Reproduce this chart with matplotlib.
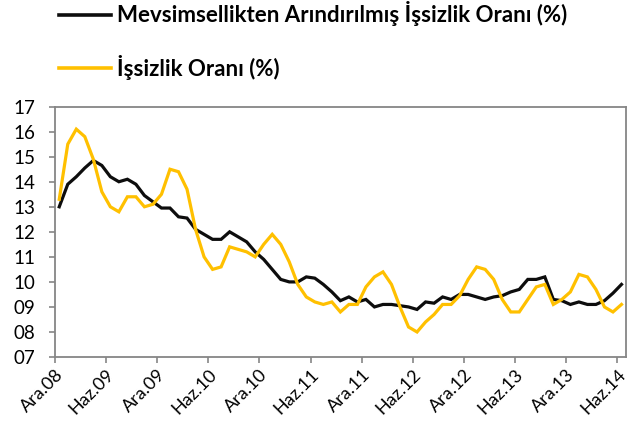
import matplotlib
matplotlib.use("Agg")
import matplotlib.pyplot as plt
import matplotlib.transforms as mtransforms
import numpy as np

# monthly, Ara.08 .. Haz.14
months_labels = ["Ara.08", "Haz.09", "Ara.09", "Haz.10", "Ara.10", "Haz.11",
                 "Ara.11", "Haz.12", "Ara.12", "Haz.13", "Ara.13", "Haz.14"]

sa_rate = [13.0, 13.9, 14.2, 14.55, 14.85, 14.65, 14.2, 14.0, 14.1, 13.9, 13.45, 13.2,
           12.95, 12.95, 12.6, 12.55, 12.1, 11.9, 11.7, 11.7, 12.0, 11.8, 11.6, 11.2,
           10.9, 10.5, 10.1, 10.0, 10.0, 10.2, 10.15, 9.9, 9.6, 9.25, 9.4, 9.2,
           9.3, 9.0, 9.1, 9.1, 9.05, 9.0, 8.9, 9.2, 9.15, 9.4, 9.3, 9.5,
           9.5, 9.4, 9.3, 9.4, 9.45, 9.6, 9.7, 10.1, 10.1, 10.2, 9.3, 9.25,
           9.1, 9.2, 9.1, 9.1, 9.25, 9.55, 9.9]

rate = [13.3, 15.5, 16.1, 15.8, 14.9, 13.6, 13.0, 12.8, 13.4, 13.4, 13.0, 13.1,
        13.5, 14.5, 14.4, 13.7, 12.1, 11.0, 10.5, 10.6, 11.4, 11.3, 11.2, 11.0,
        11.5, 11.9, 11.5, 10.8, 9.9, 9.4, 9.2, 9.1, 9.2, 8.8, 9.1, 9.1,
        9.8, 10.2, 10.4, 9.9, 9.0, 8.2, 8.0, 8.4, 8.7, 9.1, 9.1, 9.45,
        10.1, 10.6, 10.5, 10.1, 9.3, 8.8, 8.8, 9.3, 9.8, 9.9, 9.1, 9.3,
        9.6, 10.3, 10.2, 9.7, 9.0, 8.8, 9.1]

plt.rcParams["font.family"] = ["Lato", "DejaVu Sans"]
GRID = "#868686"

fig = plt.figure(figsize=(6.27, 4.37), dpi=100)
ax = fig.add_axes([0.0877, 0.183, 0.9103, 0.573])

# points sit mid-month, ticks on month boundaries
x = np.arange(len(rate))
ax.plot(x, sa_rate, color="#0d0d0d", lw=2.3, solid_joinstyle="miter",
        label="Mevsimsellikten Arındırılmış İşsizlik Oranı (%)")
ax.plot(x, rate, color="#FFC000", lw=2.3, solid_joinstyle="miter",
        label="İşsizlik Oranı (%)")

ax.set_xlim(-0.5, len(rate) - 0.5)
ax.set_ylim(7, 17)
ax.set_yticks(range(7, 18))
ax.set_yticklabels([f"{v:02d}" for v in range(7, 18)], fontsize=13.5)
ax.set_xticks(np.arange(0, len(rate), 6) - 0.5)
ax.set_xticklabels(months_labels, rotation=45, ha="right", va="top",
                   rotation_mode="anchor", fontsize=13)
shift = mtransforms.ScaledTranslation(-0.08, 0, fig.dpi_scale_trans)
for lab in ax.get_xticklabels():
    lab.set_transform(lab.get_transform() + shift)
ax.tick_params(colors=GRID, labelcolor="black", length=4, width=1.2, direction="out")
ax.tick_params(axis="y", pad=10)
ax.tick_params(axis="x", pad=3)
for s in ax.spines.values():
    s.set_color(GRID); s.set_linewidth(1.3)

leg = fig.legend(loc="upper left", bbox_to_anchor=(0.094, 0.997), frameon=False,
                 borderpad=0, borderaxespad=0,
                 handlelength=2.35, handletextpad=0.28, labelspacing=1.3,
                 prop=dict(weight="bold", size=16))
for ln in leg.get_lines():
    ln.set_linewidth(2.6)

fig.savefig("out.png", dpi=100)
